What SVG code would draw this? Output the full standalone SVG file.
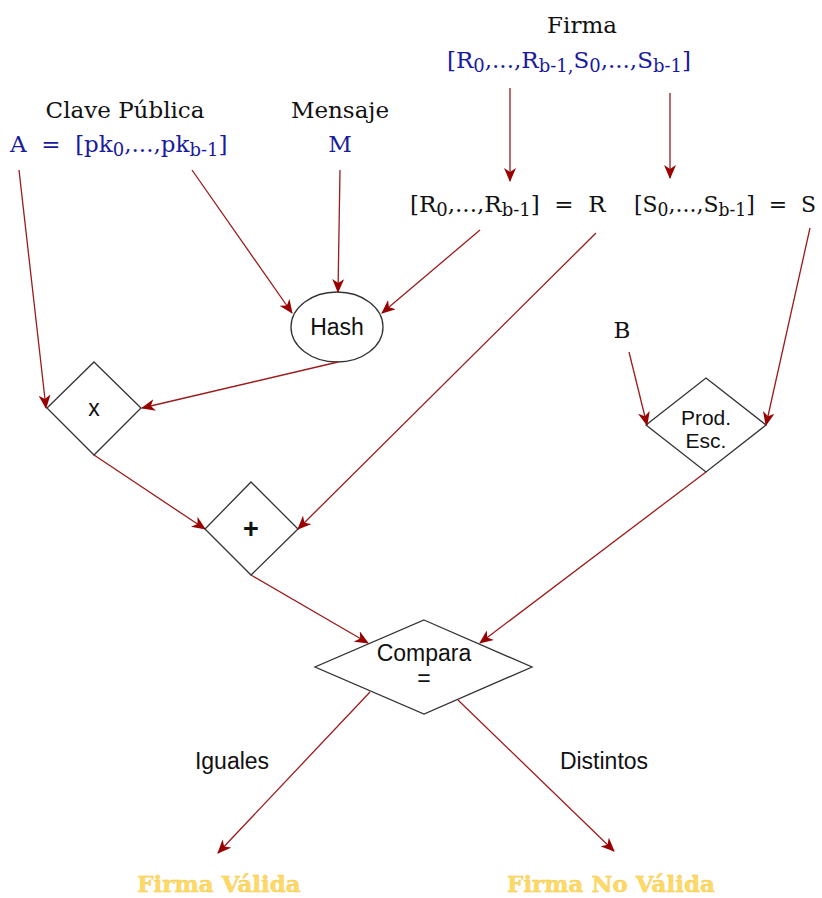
<svg xmlns="http://www.w3.org/2000/svg" width="822" height="898" viewBox="0 0 822 898">
<style>
.ser{font-family:"DejaVu Serif","Liberation Serif",serif;font-size:23px;fill:#111}
.blue{fill:#1a1a9e}
.sans{font-family:"Liberation Sans",Arial,sans-serif;font-size:23px;fill:#111}
.gold{font-family:"DejaVu Serif","Liberation Serif",serif;font-size:23px;font-weight:bold;fill:#ffd966;stroke:#f2c94c;stroke-width:0.4}
.shape{fill:#fff;stroke:#333;stroke-width:1.3}
.edge{fill:none;stroke:#9b1b1b;stroke-width:1.3;marker-end:url(#arr)}
.sub{font-size:18px}
</style>
<defs>
<marker id="arr" markerUnits="userSpaceOnUse" markerWidth="14" markerHeight="12" viewBox="0 0 14 12" refX="13" refY="6" orient="auto">
<path d="M0,0 L14,6 L0,12 L4,6 Z" fill="#990000"/>
</marker>
</defs>

<g id="labels-top">
<text class="ser" x="125" y="118" text-anchor="middle">Clave Pública</text>
<text class="ser blue" x="10" y="152" xml:space="preserve">A  =  [pk<tspan class="sub" dy="4">0</tspan><tspan dy="-4">,...,pk</tspan><tspan class="sub" dy="4">b-1</tspan><tspan dy="-4">]</tspan></text>
<text class="ser" x="340" y="118" text-anchor="middle">Mensaje</text>
<text class="ser blue" x="340" y="152" text-anchor="middle">M</text>
<text class="ser" x="582" y="33" text-anchor="middle">Firma</text>
<text class="ser blue" x="447" y="68">[R<tspan class="sub" dy="4">0</tspan><tspan dy="-4">,...,R</tspan><tspan class="sub" dy="4">b-1,</tspan><tspan dy="-4">S</tspan><tspan class="sub" dy="4">0</tspan><tspan dy="-4">,...,S</tspan><tspan class="sub" dy="4">b-1</tspan><tspan dy="-4">]</tspan></text>
<text class="ser" x="410" y="212" xml:space="preserve">[R<tspan class="sub" dy="4">0</tspan><tspan dy="-4">,...,R</tspan><tspan class="sub" dy="4">b-1</tspan><tspan dy="-4">]  =  R</tspan></text>
<text class="ser" x="634" y="212" xml:space="preserve" textLength="182" lengthAdjust="spacingAndGlyphs">[S<tspan class="sub" dy="4">0</tspan><tspan dy="-4">,...,S</tspan><tspan class="sub" dy="4">b-1</tspan><tspan dy="-4">]  =  S</tspan></text>
<text class="ser" x="622" y="338" text-anchor="middle">B</text>
</g>

<g id="node-hash">
<ellipse class="shape" cx="337" cy="327" rx="46" ry="35"/>
<text class="sans" x="337" y="335" text-anchor="middle">Hash</text>
</g>
<g id="node-mult">
<polygon class="shape" points="94,362 141,408 94,455 47,408"/>
<text class="sans" x="94" y="416" text-anchor="middle">x</text>
</g>
<g id="node-plus">
<polygon class="shape" points="251,482 298,529 251,575 205,529"/>
<text class="sans" x="251" y="538" text-anchor="middle" style="font-size:27px;font-weight:bold">+</text>
</g>
<g id="node-prod">
<polygon class="shape" points="706,378 766,425 706,472 646,425"/>
<text class="sans" x="706" y="425" text-anchor="middle" style="font-size:21px">Prod.</text>
<text class="sans" x="706" y="448" text-anchor="middle" style="font-size:21px">Esc.</text>
</g>
<g id="node-compara">
<polygon class="shape" points="424,620 532,667 424,714 315,667"/>
<text class="sans" x="424" y="661" text-anchor="middle">Compara</text>
<text class="sans" x="424" y="686" text-anchor="middle">=</text>
</g>

<g id="edge-labels">
<text class="sans" x="232" y="769" text-anchor="middle">Iguales</text>
<text class="sans" x="604" y="769" text-anchor="middle">Distintos</text>
</g>

<g id="results">
<text class="gold" x="219" y="892" text-anchor="middle">Firma Válida</text>
<text class="gold" x="611" y="892" text-anchor="middle">Firma No Válida</text>
</g>

<g id="connectors">
<line class="edge" x1="510" y1="88" x2="510" y2="181"/>
<line class="edge" x1="670" y1="93" x2="670" y2="178"/>
<line class="edge" x1="19" y1="170" x2="46" y2="408"/>
<line class="edge" x1="192" y1="170" x2="292" y2="313"/>
<line class="edge" x1="340" y1="170" x2="338" y2="292"/>
<line class="edge" x1="480" y1="230" x2="382" y2="313"/>
<line class="edge" x1="338" y1="362" x2="142" y2="408"/>
<line class="edge" x1="94" y1="455" x2="205" y2="529"/>
<line class="edge" x1="596" y1="233" x2="298" y2="529"/>
<line class="edge" x1="629" y1="352" x2="647" y2="425"/>
<line class="edge" x1="810" y1="228" x2="766" y2="425"/>
<line class="edge" x1="706" y1="472" x2="480" y2="643"/>
<line class="edge" x1="251" y1="575" x2="368" y2="643"/>
<line class="edge" x1="370" y1="692" x2="218" y2="853"/>
<line class="edge" x1="458" y1="700" x2="614" y2="851"/>
</g>
</svg>
